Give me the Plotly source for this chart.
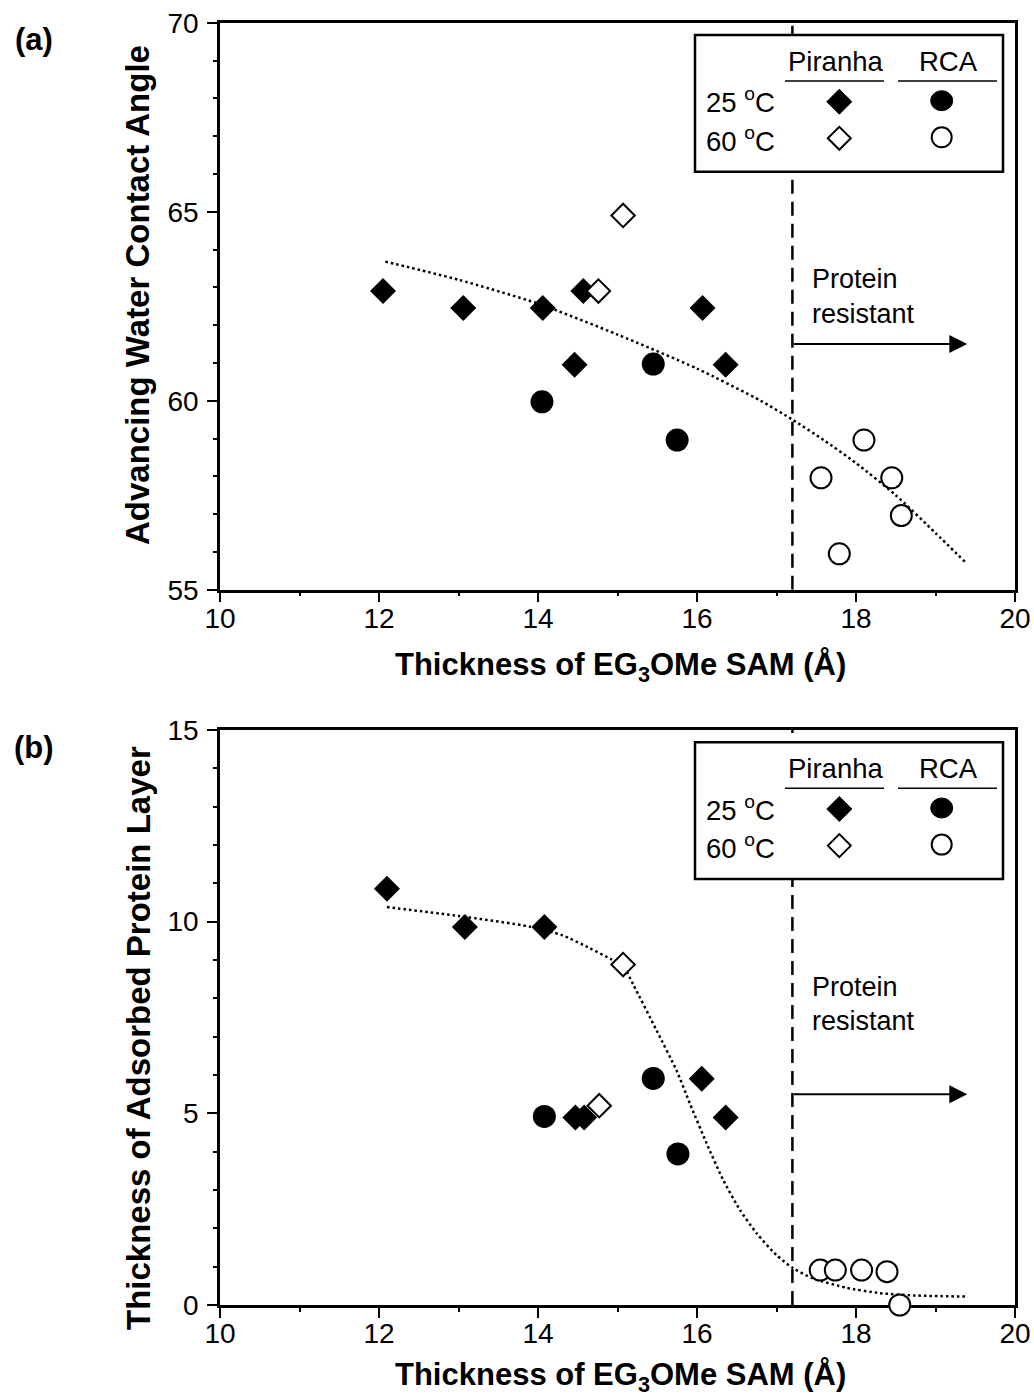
import plotly.graph_objects as go

W, H = 1034, 1399
FONT = "Liberation Sans, Arial, Helvetica, sans-serif"

# ---------------- Data: panel (a) advancing water contact angle ----------------
a_pir25_x = [12.05, 13.06, 14.06, 14.57, 16.07, 14.46, 16.36]
a_pir25_y = [62.9, 62.45, 62.45, 62.9, 62.45, 60.95, 60.95]
a_pir60_x = [14.76, 15.07]
a_pir60_y = [62.9, 64.9]
a_rca25_x = [14.05, 15.45, 15.75]
a_rca25_y = [59.97, 60.97, 58.96]
a_rca60_x = [17.56, 18.10, 18.45, 18.57, 17.79]
a_rca60_y = [57.96, 58.96, 57.96, 56.96, 55.95]
a_fit_x = [12.08, 13.0, 14.0, 15.0, 16.0, 16.8, 17.2, 17.6, 18.0, 18.5, 19.0, 19.37]
a_fit_y = [63.68, 63.2, 62.57, 61.75, 60.85, 60.0, 59.5, 58.95, 58.35, 57.5, 56.5, 55.74]

# ---------------- Data: panel (b) adsorbed protein layer thickness ----------------
b_pir25_x = [12.10, 13.08, 14.08, 16.06, 14.47, 14.58, 16.36]
b_pir25_y = [10.86, 9.86, 9.86, 5.90, 4.89, 4.89, 4.89]
b_pir60_x = [15.07, 14.77]
b_pir60_y = [8.88, 5.2]
b_rca25_x = [14.08, 15.45, 15.76]
b_rca25_y = [4.92, 5.91, 3.94]
b_rca60_x = [17.55, 17.74, 18.07, 18.39, 18.55]
b_rca60_y = [0.91, 0.91, 0.91, 0.87, 0.0]
b_fit_x = [12.1, 13.0, 13.9, 14.3, 14.65, 14.92, 15.07, 15.2, 15.49, 15.74, 15.91,
           16.12, 16.33, 16.54, 16.75, 17.0, 17.21, 17.45, 17.88, 18.3, 18.72, 19.37]
b_fit_y = [10.38, 10.15, 9.87, 9.65, 9.31, 9.02, 8.85, 8.35, 7.17, 6.13, 5.26,
           4.22, 3.26, 2.48, 1.87, 1.30, 0.96, 0.70, 0.45, 0.31, 0.25, 0.22]

threshold_x = 17.2          # protein-resistant thickness
arrow_end_x = 19.4
arrow_y_a = 61.5
arrow_y_b = 5.5

x_range = [10, 20]
a_y_range = [55, 70]
b_y_range = [0, 15]

x_title = "Thickness of EG<sub>3</sub>OMe SAM (Å)"
a_y_title = "Advancing Water Contact Angle"
b_y_title = "Thickness of Adsorbed Protein Layer"

# ---------------- Layout geometry (pixels) ----------------
PX_L, PX_R = 220, 1015
A_TOP, A_BOT = 22.7, 589.7
B_TOP, B_BOT = 730, 1305


def fx(px):
    return px / W


def fy(py):
    return 1 - py / H


fig = go.Figure()

DOT = "2.5px,3px"


def add_panel(data, xa, ya):
    (fitx, fity, p25x, p25y, r25x, r25y, p60x, p60y, r60x, r60y) = data
    fig.add_trace(go.Scatter(x=fitx, y=fity, mode="lines", xaxis=xa, yaxis=ya,
                             line=dict(color="black", width=2.5, dash=DOT, shape="spline", smoothing=0.6),
                             showlegend=False, hoverinfo="skip"))
    fig.add_trace(go.Scatter(x=p25x, y=p25y, mode="markers", xaxis=xa, yaxis=ya,
                             marker=dict(symbol="diamond", size=20, color="black", line=dict(width=0)),
                             showlegend=False, cliponaxis=False))
    fig.add_trace(go.Scatter(x=r25x, y=r25y, mode="markers", xaxis=xa, yaxis=ya,
                             marker=dict(symbol="circle", size=23, color="black", line=dict(width=0)),
                             showlegend=False, cliponaxis=False))
    fig.add_trace(go.Scatter(x=p60x, y=p60y, mode="markers", xaxis=xa, yaxis=ya,
                             marker=dict(symbol="diamond", size=18, color="white",
                                         line=dict(width=2, color="black")),
                             showlegend=False, cliponaxis=False))
    fig.add_trace(go.Scatter(x=r60x, y=r60y, mode="markers", xaxis=xa, yaxis=ya,
                             marker=dict(symbol="circle", size=21, color="white",
                                         line=dict(width=2, color="black")),
                             showlegend=False, cliponaxis=False))


add_panel((a_fit_x, a_fit_y, a_pir25_x, a_pir25_y, a_rca25_x, a_rca25_y,
           a_pir60_x, a_pir60_y, a_rca60_x, a_rca60_y), "x", "y")
add_panel((b_fit_x, b_fit_y, b_pir25_x, b_pir25_y, b_rca25_x, b_rca25_y,
           b_pir60_x, b_pir60_y, b_rca60_x, b_rca60_y), "x2", "y2")

axis_common = dict(
    showline=True, linecolor="black", linewidth=2.5, mirror=True,
    ticks="outside", ticklen=10, tickwidth=2, tickcolor="black",
    showgrid=False, zeroline=False, layer="below traces", automargin=False,
    tickfont=dict(family=FONT, size=28, color="black"),
    minor=dict(ticks="outside", ticklen=4, tickwidth=2, tickcolor="black", dtick=1),
)

fig.update_layout(
    template="none",
    width=W, height=H, autosize=False,
    margin=dict(l=0, r=0, t=0, b=0, pad=0, autoexpand=False),
    paper_bgcolor="white", plot_bgcolor="white",
    showlegend=False,
    xaxis=dict(domain=[fx(PX_L), fx(PX_R)], range=x_range, dtick=2, anchor="y",
               ticklabelstandoff=-8, **axis_common),
    yaxis=dict(domain=[fy(A_BOT), fy(A_TOP)], range=a_y_range, dtick=5, anchor="x",
               ticklabelstandoff=3, **axis_common),
    xaxis2=dict(domain=[fx(PX_L), fx(PX_R)], range=x_range, dtick=2, anchor="y2",
                ticklabelstandoff=-8, **axis_common),
    yaxis2=dict(domain=[fy(B_BOT), fy(B_TOP)], range=b_y_range, dtick=5, anchor="x2",
                ticklabelstandoff=3, **axis_common),
)

shapes = []
annotations = []

# threshold dashed lines
for xa, ya, yr in (("x", "y", a_y_range), ("x2", "y2", b_y_range)):
    shapes.append(dict(type="line", xref=xa, yref=ya, x0=threshold_x, x1=threshold_x,
                       y0=yr[0], y1=yr[1], line=dict(color="black", width=2.5, dash="14px,8px"),
                       layer="above"))

# arrows + "Protein resistant" labels
for xa, ya, ay in (("x", "y", arrow_y_a), ("x2", "y2", arrow_y_b)):
    annotations.append(dict(x=arrow_end_x, y=ay, ax=threshold_x, ay=ay, xref=xa, yref=ya,
                            axref=xa, ayref=ya, showarrow=True, arrowhead=2, arrowsize=1.8,
                            arrowwidth=2, arrowcolor="black", text=""))

txt = dict(family=FONT, size=27, color="black")
for top in (A_TOP, B_TOP):
    annotations.append(dict(x=fx(810), y=fy(top + 256.6), xref="paper", yref="paper",
                            xanchor="left", yanchor="middle", text="Protein", showarrow=False, font=txt))
    annotations.append(dict(x=fx(810), y=fy(top + 291), xref="paper", yref="paper",
                            xanchor="left", yanchor="middle", text="resistant", showarrow=False, font=txt))

# legend boxes (drawn as shapes, both panels)
leg_font = dict(family=FONT, size=27.5, color="black")
for top in (A_TOP, B_TOP):
    shapes.append(dict(type="rect", xref="paper", yref="paper", x0=fx(695), x1=fx(1003),
                       y0=fy(top + 12.3), y1=fy(top + 149), fillcolor="white",
                       line=dict(color="black", width=2.5), layer="above"))
    for x0, x1 in ((785, 884), (898, 997)):
        shapes.append(dict(type="line", xref="paper", yref="paper", x0=fx(x0), x1=fx(x1),
                           y0=fy(top + 58.3), y1=fy(top + 58.3),
                           line=dict(color="black", width=1.5), layer="above"))
    # filled diamond
    cx, cy, r = 839.3, top + 79, 12.5
    shapes.append(dict(type="path", xref="paper", yref="paper",
                       path=f"M {fx(cx - r)},{fy(cy)} L {fx(cx)},{fy(cy - r)} L {fx(cx + r)},{fy(cy)} L {fx(cx)},{fy(cy + r)} Z",
                       fillcolor="black", line=dict(color="black", width=1), layer="above"))
    # open diamond
    cy2, r2 = top + 115.6, 11.5
    shapes.append(dict(type="path", xref="paper", yref="paper",
                       path=f"M {fx(cx - r2)},{fy(cy2)} L {fx(cx)},{fy(cy2 - r2)} L {fx(cx + r2)},{fy(cy2)} L {fx(cx)},{fy(cy2 + r2)} Z",
                       fillcolor="white", line=dict(color="black", width=2), layer="above"))
    # filled circle
    ccx = 941.7
    shapes.append(dict(type="circle", xref="paper", yref="paper",
                       x0=fx(ccx - 11), x1=fx(ccx + 11), y0=fy(top + 78 - 10), y1=fy(top + 78 + 10),
                       fillcolor="black", line=dict(color="black", width=1), layer="above"))
    # open circle
    shapes.append(dict(type="circle", xref="paper", yref="paper",
                       x0=fx(ccx - 10), x1=fx(ccx + 10), y0=fy(top + 114.6 - 10), y1=fy(top + 114.6 + 10),
                       fillcolor="white", line=dict(color="black", width=2), layer="above"))
    annotations.append(dict(x=fx(835), y=fy(top + 38.8), xref="paper", yref="paper",
                            xanchor="center", yanchor="middle", text="Piranha", showarrow=False, font=leg_font))
    annotations.append(dict(x=fx(948), y=fy(top + 38.8), xref="paper", yref="paper",
                            xanchor="center", yanchor="middle", text="RCA", showarrow=False, font=leg_font))
    annotations.append(dict(x=fx(704), y=fy(top + 78), xref="paper", yref="paper",
                            xanchor="left", yanchor="middle", text="25 <sup>o</sup>C", showarrow=False, font=leg_font))
    annotations.append(dict(x=fx(704), y=fy(top + 116.5), xref="paper", yref="paper",
                            xanchor="left", yanchor="middle", text="60 <sup>o</sup>C", showarrow=False, font=leg_font))

# axis titles
xt_font = dict(family=FONT, size=31, color="black", weight="bold")
yt_font = dict(family=FONT, size=33, color="black", weight="bold")
for py in (667, 1377):
    annotations.append(dict(x=fx(620), y=fy(py), xref="paper", yref="paper", xanchor="center",
                            yanchor="middle", text=f"<b>{x_title}</b>", showarrow=False, font=xt_font))
annotations.append(dict(x=fx(138), y=fy(295), xref="paper", yref="paper", xanchor="center",
                        yanchor="middle", text=f"<b>{a_y_title}</b>", textangle=-90,
                        showarrow=False, font=yt_font))
annotations.append(dict(x=fx(138), y=fy(1038), xref="paper", yref="paper", xanchor="center",
                        yanchor="middle", text=f"<b>{b_y_title}</b>", textangle=-90,
                        showarrow=False, font=yt_font))

# panel labels
for lab, py in (("(a)", 40), ("(b)", 747)):
    annotations.append(dict(x=fx(34), y=fy(py), xref="paper", yref="paper", xanchor="center",
                            yanchor="middle", text=f"<b>{lab}</b>", showarrow=False,
                            font=dict(family=FONT, size=31, color="black")))

fig.update_layout(shapes=shapes, annotations=annotations)
fig.write_html("out.html")
